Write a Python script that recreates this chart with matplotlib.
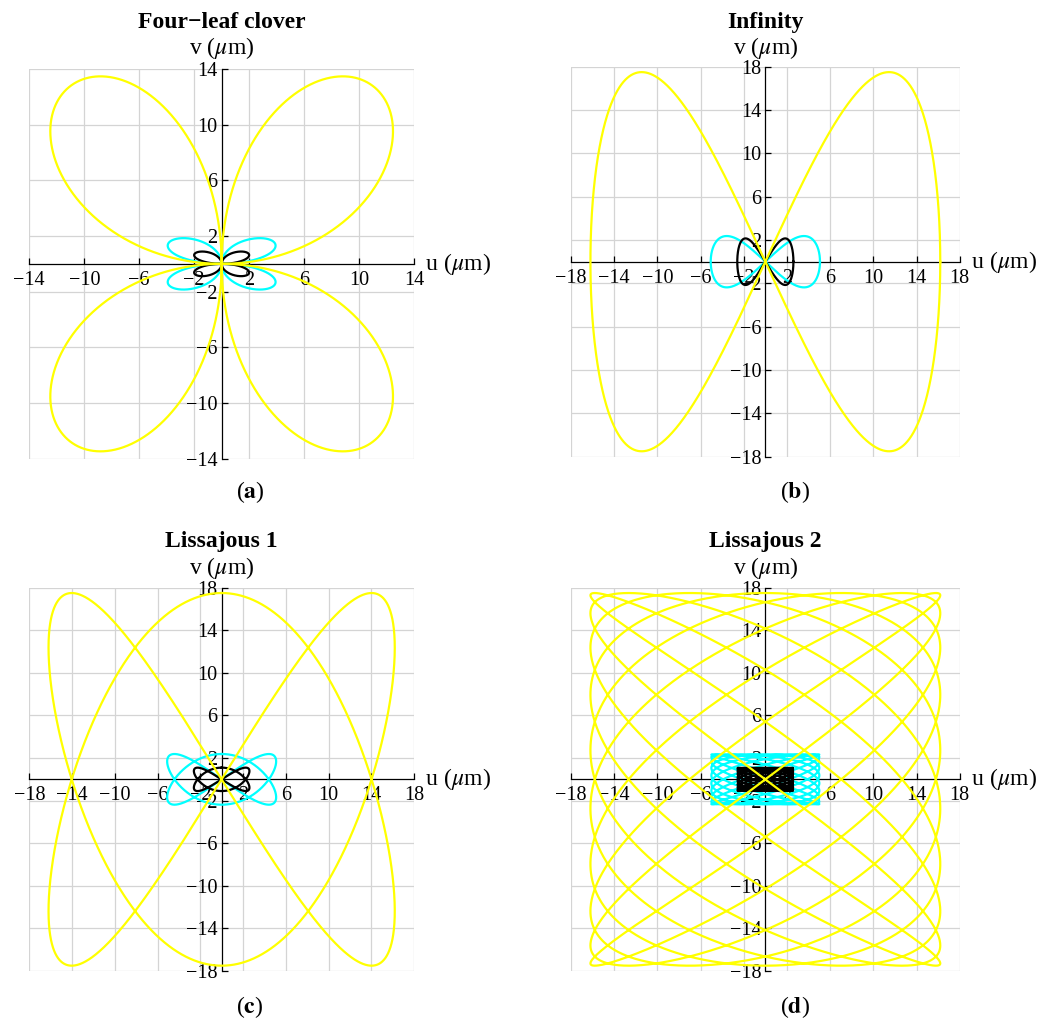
import numpy as np
import matplotlib.pyplot as plt

plt.rcParams['font.family'] = ['Liberation Serif', 'DejaVu Serif']
plt.rcParams['mathtext.fontset'] = 'stix'

W, H = 1055, 1030

# trace colours: outer, middle, inner trajectory
trace_colors = ['#ffff00', '#00ffff', '#000000']
trace_z = [5, 3, 4]

# amplitudes (um) along u and v for each trace
clover_u_amp = [16.2, 5.1, 2.6]
clover_v_amp = [17.5, 2.4, 1.15]

infinity_u_amp = [16.2, 5.06, 2.6]
infinity_v_amp = [17.5, 2.37, 2.15]

liss1_u_amp = [16.2, 5.1, 2.6]
liss1_v_amp = [17.5, 2.38, 1.1]
liss1_freq = (2, 3)

liss2_u_amp = [16.2, 5.0, 2.57]
liss2_v_amp = [17.5, 2.35, 1.08]
liss2_freq = (10, 7)

ticks_small = [-14, -10, -6, -2, 2, 6, 10, 14]
ticks_large = [-18, -14, -10, -6, -2, 2, 6, 10, 14, 18]

titles = ['Four\u2212leaf clover', 'Infinity', 'Lissajous 1', 'Lissajous 2']
letters = ['a', 'b', 'c', 'd']

t = np.linspace(0, 2 * np.pi, 6000)


def clover(a, b):
    r = np.sin(2 * t)
    return a * r * np.cos(t), b * r * np.sin(t)


def infinity(a, b):
    return a * np.cos(t), b * np.sin(2 * t)


def liss1(a, b):
    p, q = liss1_freq
    return a * np.sin(p * t), b * np.cos(q * t)


def liss2(a, b):
    p, q = liss2_freq
    return a * np.sin(p * t), b * np.sin(q * t)


# axes boxes in pixels: left, right, top, bottom
boxes = [(29.3, 414.0, 69.0, 458.7),
         (571.0, 959.7, 66.7, 456.7),
         (29.3, 414.0, 587.7, 971.0),
         (571.0, 959.7, 587.7, 971.0)]
title_y = [28, 28, 547, 547]
vlab_y = [54, 54, 574, 574]
cap_pos = [(250, 492), (795, 492), (250, 1007), (795, 1007)]

panels = [(clover, clover_u_amp, clover_v_amp, 14, ticks_small),
          (infinity, infinity_u_amp, infinity_v_amp, 18, ticks_large),
          (liss1, liss1_u_amp, liss1_v_amp, 18, ticks_large),
          (liss2, liss2_u_amp, liss2_v_amp, 18, ticks_large)]

fig = plt.figure(figsize=(W / 100, H / 100), dpi=100)

for k, (curve, ua, va, lim, ticks) in enumerate(panels):
    l, r, top, bot = boxes[k]
    ax = fig.add_axes([l / W, 1 - bot / H, (r - l) / W, (bot - top) / H])
    ax.set_facecolor('none')

    for a, b, c, z in zip(ua, va, trace_colors, trace_z):
        u, v = curve(a, b)
        ax.plot(u, v, color=c, lw=1.6, zorder=z)

    ax.set_xlim(-lim, lim)
    ax.set_ylim(-lim, lim)
    ax.set_xticks(ticks)
    ax.set_yticks(ticks)
    ax.grid(True, color='#d4d4d4', lw=0.9)
    for gl in ax.get_xgridlines() + ax.get_ygridlines():
        gl.set_clip_on(False)
    ax.set_axisbelow(True)

    for s in ['top', 'right']:
        ax.spines[s].set_visible(False)
    for s in ['left', 'bottom']:
        ax.spines[s].set_position(('data', 0))
        ax.spines[s].set_linewidth(0.9)
        ax.spines[s].set_zorder(2)
    ax.tick_params(direction='in', length=4, width=0.9, labelsize=14.5)
    ax.tick_params(axis='x', pad=5)
    ax.tick_params(axis='y', pad=3)

    ax.text(1.0, 0, '  u ($\\mu$m)', transform=ax.get_yaxis_transform(),
            ha='left', va='center', fontsize=17)
    fig.text(((l + r) / 2) / W, 1 - vlab_y[k] / H, 'v ($\\mu$m)',
             ha='center', va='baseline', fontsize=17)
    fig.text(((l + r) / 2) / W, 1 - title_y[k] / H, titles[k],
             ha='center', va='baseline', fontsize=17, fontweight='bold')
    cx, cy = cap_pos[k]
    fig.text(cx / W, 1 - cy / H, '($\\mathbf{%s}$)' % letters[k],
             ha='center', va='center', fontsize=17)

fig.savefig('out.png', dpi=100)
